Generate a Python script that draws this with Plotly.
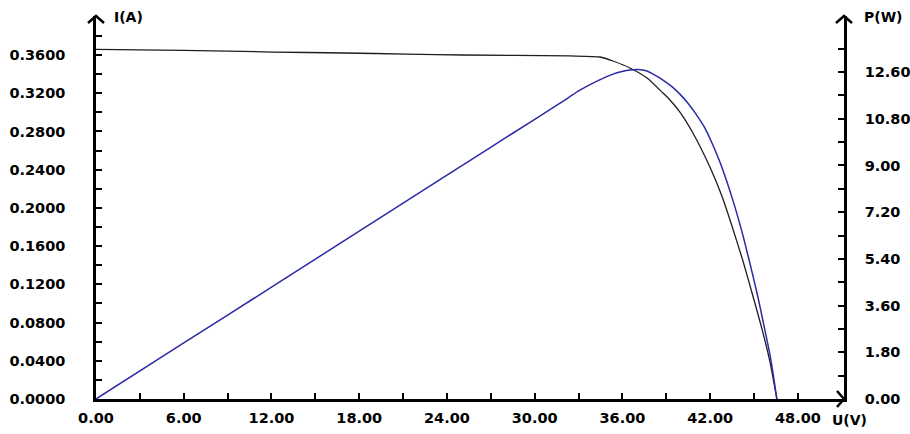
import plotly.graph_objects as go

# ---- data ----
U_I = [0, 5.95, 12.10, 16.89, 21.26, 25.09, 32.41, 34.46, 35.35, 36.51, 37.68, 38.77,
       39.25, 39.93, 40.82, 41.98, 42.80, 43.49, 44.24, 44.92, 45.54, 46.09, 46.56]
I_A = [0.3658, 0.3649, 0.3631, 0.3621, 0.3610, 0.3600, 0.3590, 0.3579, 0.3537, 0.3464,
       0.3359, 0.3202, 0.3129, 0.3003, 0.2784, 0.2428, 0.2124, 0.1810, 0.1444, 0.1078,
       0.0733, 0.0387, 0.0]

U_P = [0, 6, 12, 18, 24, 30, 31.73, 33.09, 34.26, 35.35, 35.97, 36.51, 37.06, 37.68,
       38.22, 38.77, 39.38, 39.93, 40.48, 41.03, 41.64, 42.19, 42.67, 43.49, 44.17,
       44.72, 45.26, 45.68, 46.15, 46.56]
P_W = [0, 2.16, 4.31, 6.47, 8.63, 10.78, 11.40, 11.90, 12.25, 12.52, 12.62, 12.68,
       12.70, 12.64, 12.48, 12.29, 12.04, 11.75, 11.40, 10.98, 10.44, 9.78, 9.12, 7.77,
       6.45, 5.22, 3.94, 2.82, 1.51, 0]

x_ticks = [0, 6, 12, 18, 24, 30, 36, 42, 48]
x_labels = ["0.00", "6.00", "12.00", "18.00", "24.00", "30.00", "36.00", "42.00", "48.00"]
x_minor = [3 * k for k in range(17)]

i_ticks = [0.0, 0.04, 0.08, 0.12, 0.16, 0.20, 0.24, 0.28, 0.32, 0.36]
i_labels = ["0.0000", "0.0400", "0.0800", "0.1200", "0.1600", "0.2000", "0.2400",
            "0.2800", "0.3200", "0.3600"]
i_minor = [0.02 * k for k in range(20)]

p_ticks = [0.0, 1.8, 3.6, 5.4, 7.2, 9.0, 10.8, 12.6]
p_labels = ["0.00", "1.80", "3.60", "5.40", "7.20", "9.00", "10.80", "12.60"]
p_minor = [0.9 * k for k in range(16)]

FONT = dict(family="DejaVu Sans", size=14.5, color="black", weight="bold")

fig = go.Figure()
fig.add_trace(go.Scatter(x=U_I, y=I_A, mode="lines", yaxis="y",
                         line=dict(color="#1e1e1e", width=1.3, shape="spline", smoothing=0.6),
                         showlegend=False, hoverinfo="skip"))
fig.add_trace(go.Scatter(x=U_P, y=P_W, mode="lines", yaxis="y2",
                         line=dict(color="#2a2aa8", width=1.5, shape="spline", smoothing=0.6),
                         showlegend=False, hoverinfo="skip"))

axis_common = dict(showgrid=False, zeroline=False, showline=True, linecolor="black",
                   linewidth=2.5, ticks="inside", ticklen=6, tickwidth=1.5,
                   tickcolor="black", tickfont=FONT, fixedrange=True, automargin=False)

fig.update_layout(
    width=910, height=434, autosize=False,
    margin=dict(l=96, r=66, t=16, b=35, pad=0),
    paper_bgcolor="white", plot_bgcolor="white",
    xaxis=dict(range=[0, 51.15], tickvals=x_ticks, ticktext=x_labels,
               minor=dict(tickvals=x_minor, ticks="inside", ticklen=6, tickwidth=1.5,
                          tickcolor="black"),
               ticklabelstandoff=4, **axis_common),
    yaxis=dict(range=[0, 0.4008], tickvals=i_ticks, ticktext=i_labels,
               minor=dict(tickvals=i_minor, ticks="inside", ticklen=6, tickwidth=1.5,
                          tickcolor="black"),
               ticklabelstandoff=25, **axis_common),
    yaxis2=dict(range=[0, 14.76], tickvals=p_ticks, ticktext=p_labels,
                overlaying="y", side="right", anchor="x",
                minor=dict(tickvals=p_minor, ticks="inside", ticklen=6, tickwidth=1.5,
                           tickcolor="black"),
                ticklabelstandoff=15, **axis_common),
)

# arrowheads at the axis ends (plot area is 748 x 383 px)
W, H = 748.0, 383.0
ax_, ay_ = 8 / W, 7 / H
arrow_style = dict(type="path", xref="paper", yref="paper",
                   line=dict(color="black", width=2.5))
fig.add_shape(path=f"M {-ax_},{1 - ay_} L 0,1 L {ax_},{1 - ay_}", **arrow_style)
fig.add_shape(path=f"M {1 - ax_},{1 - ay_} L 1,1 L {1 + ax_},{1 - ay_}", **arrow_style)
bx, by = 7 / W, 8 / H
fig.add_shape(path=f"M {1 - bx},{by} L 1,0 L {1 - bx},{-by}", **arrow_style)

TFONT = dict(family="DejaVu Sans", size=14, color="black", weight="bold")
fig.add_annotation(text="I(A)", xref="paper", yref="paper", x=16 / W, y=(399 - 17) / H,
                   xanchor="left", yanchor="middle", showarrow=False, font=TFONT)
fig.add_annotation(text="P(W)", xref="paper", yref="paper", x=766 / W, y=(399 - 17) / H,
                   xanchor="left", yanchor="middle", showarrow=False, font=TFONT)
fig.add_annotation(text="U(V)", xref="paper", yref="paper", x=734 / W, y=(399 - 420) / H,
                   xanchor="left", yanchor="middle", showarrow=False, font=TFONT)

fig.write_html("out.html", config={"displayModeBar": False},
               post_script="document.body.style.margin='0';document.body.style.overflow='hidden';")
